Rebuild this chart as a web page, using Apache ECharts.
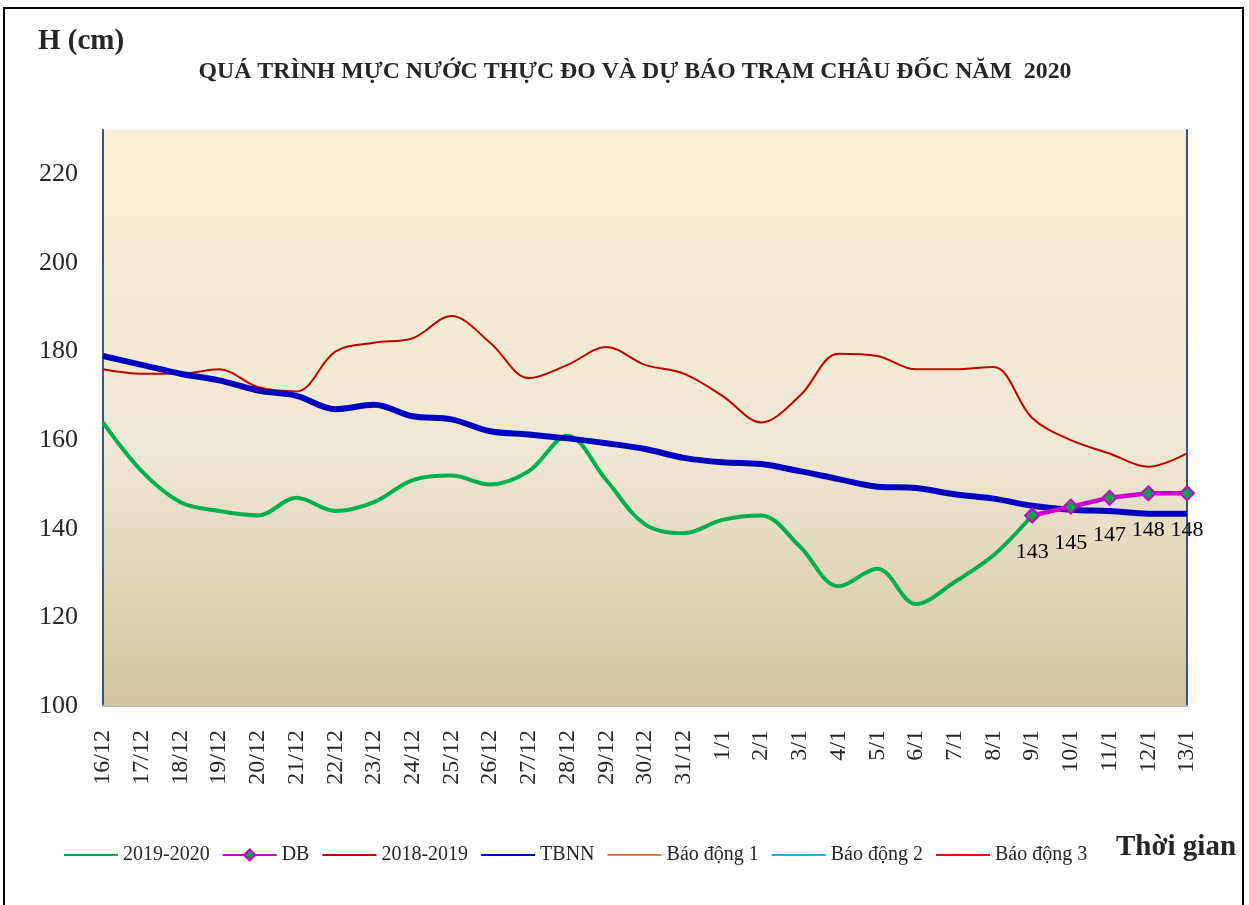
<!DOCTYPE html>
<html>
<head>
<meta charset="utf-8">
<script src="https://cdn.jsdelivr.net/npm/echarts@6/dist/echarts.min.js"></script>
<style>
  html, body { margin: 0; padding: 0; background: #fff; }
  #chart { width: 1249px; height: 905px; }
</style>
</head>
<body>
<div id="chart"></div>
<script>
// ngày (trục hoành)
var days = ["16/12", "17/12", "18/12", "19/12", "20/12", "21/12", "22/12", "23/12", "24/12", "25/12",
  "26/12", "27/12", "28/12", "29/12", "30/12", "31/12", "1/1", "2/1", "3/1", "4/1",
  "5/1", "6/1", "7/1", "8/1", "9/1", "10/1", "11/1", "12/1", "13/1"];

// mực nước thực đo 2019-2020 (cm)
var h2019_2020 = [164, 153, 146, 144, 143, 147, 144, 146, 151, 152,
  150, 153, 161, 151, 141, 139, 142, 143, 136, 127,
  131, 123, 128, 134, 143, null, null, null, null];

// dự báo
var hDB = [null, null, null, null, null, null, null, null, null, null,
  null, null, null, null, null, null, null, null, null, null,
  null, null, null, null, 143, 145, 147, 148, 148];

// cùng kỳ 2018-2019
var h2018_2019 = [176, 175, 175, 176, 172, 171, 180, 182, 183, 188,
  182, 174, 177, 181, 177, 175, 170, 164, 170, 179.5,
  179, 176, 176, 176.5, 165, 160, 157, 154, 157];

// trung bình nhiều năm
var hTBNN = [179, 177, 175, 173.5, 171.2, 170, 167, 168, 165.4, 164.7,
  162, 161.3, 160.4, 159.3, 158, 156, 155, 154.6, 153, 151.2,
  149.5, 149.2, 147.8, 146.8, 145.2, 144.3, 144, 143.4, 143.4];

// các mức báo động (nằm ngoài khung trục, chỉ có trong chú giải)
var bd1 = [];
var bd2 = [];
var bd3 = [];

var serif = "'Liberation Serif', 'Times New Roman', serif";
var hideSym = { opacity: 0 };

var myChart = echarts.init(document.getElementById("chart"));
var option = {
  backgroundColor: "#fff",
  animation: false,
  textStyle: { fontFamily: serif },
  graphic: [
    {
      type: "rect",
      shape: { x: 4, y: 8, width: 1239, height: 905 },
      style: { fill: "none", stroke: "#000", lineWidth: 2 },
      z: -1
    },
    {
      type: "text",
      left: 38, top: 27,
      style: { text: "H (cm)", font: "bold 29px " + serif, fill: "#262626" }
    },
    {
      type: "text",
      left: 1116, top: 833,
      style: { text: "Thời gian", font: "bold 29px " + serif, fill: "#262626" }
    }
  ],
  title: {
    text: "QUÁ TRÌNH MỰC NƯỚC THỰC ĐO VÀ DỰ BÁO TRẠM CHÂU ĐỐC NĂM  2020",
    left: 630,
    textAlign: "center",
    top: 55,
    textStyle: { fontFamily: serif, fontSize: 23.8, fontWeight: "bold", color: "#262626" }
  },
  legend: {
    left: 58,
    top: 840,
    itemWidth: 54,
    itemHeight: 14,
    itemGap: 12,
    textStyle: { fontFamily: serif, fontSize: 20, color: "#262626" },
    data: [
      { name: "2019-2020", itemStyle: hideSym },
      "DB",
      { name: "2018-2019", itemStyle: hideSym },
      { name: "TBNN", itemStyle: hideSym },
      { name: "Báo động 1", itemStyle: hideSym },
      { name: "Báo động 2", itemStyle: hideSym },
      { name: "Báo động 3", itemStyle: hideSym }
    ]
  },
  grid: {
    left: 103,
    right: 62,
    top: 130,
    bottom: 199,
    show: true,
    borderWidth: 0,
    backgroundColor: new echarts.graphic.LinearGradient(0, 0, 0, 1, [
      { offset: 0, color: "#FCEED2" },
      { offset: 0.55, color: "#EFE8D4" },
      { offset: 1, color: "#D3C49E" }
    ])
  },
  xAxis: {
    type: "category",
    data: days,
    boundaryGap: false,
    axisLine: { show: true, lineStyle: { color: "#BFBFBF", width: 2 } },
    axisTick: { show: false },
    axisLabel: {
      rotate: 90,
      interval: 0,
      margin: 24,
      fontFamily: serif,
      fontSize: 24,
      color: "#262626"
    },
    splitLine: { show: false }
  },
  yAxis: [
    {
      type: "value",
      min: 100,
      max: 230,
      interval: 20,
      axisLine: { show: true, lineStyle: { color: "#2F5597", width: 2 } },
      axisTick: { show: false },
      axisLabel: {
        showMaxLabel: false,
        margin: 25,
        fontFamily: serif,
        fontSize: 26,
        color: "#262626"
      },
      splitLine: { show: false }
    },
    {
      type: "value",
      min: 100,
      max: 230,
      position: "right",
      axisLine: { show: true, lineStyle: { color: "#2F5597", width: 2 } },
      axisTick: { show: false },
      axisLabel: { show: false },
      splitLine: { show: false }
    }
  ],
  series: [
    {
      name: "2019-2020",
      type: "line",
      data: h2019_2020,
      smooth: 0.35,
      symbol: "none",
      lineStyle: { color: "#00B050", width: 4 },
      itemStyle: { color: "#00B050" },
      z: 2
    },
    {
      name: "DB",
      type: "line",
      data: hDB,
      symbol: "diamond",
      symbolSize: 14,
      lineStyle: { color: "#CC00CC", width: 4.5 },
      itemStyle: { color: "#00A050", borderColor: "#CC00CC", borderWidth: 2 },
      label: {
        show: true,
        position: "bottom",
        distance: 18,
        fontFamily: serif,
        fontSize: 22,
        color: "#000"
      },
      z: 5
    },
    {
      name: "2018-2019",
      type: "line",
      data: h2018_2019,
      smooth: 0.35,
      symbol: "none",
      lineStyle: { color: "#C00000", width: 2 },
      itemStyle: { color: "#C00000" },
      z: 3
    },
    {
      name: "TBNN",
      type: "line",
      data: hTBNN,
      smooth: 0.35,
      symbol: "none",
      lineStyle: { color: "#0000BF", width: 6 },
      itemStyle: { color: "#0000BF" },
      z: 4
    },
    {
      name: "Báo động 1",
      type: "line",
      data: bd1,
      symbol: "none",
      lineStyle: { color: "#ED7D31", width: 2.5 },
      itemStyle: { color: "#ED7D31" }
    },
    {
      name: "Báo động 2",
      type: "line",
      data: bd2,
      symbol: "none",
      lineStyle: { color: "#00B0F0", width: 2.5 },
      itemStyle: { color: "#00B0F0" }
    },
    {
      name: "Báo động 3",
      type: "line",
      data: bd3,
      symbol: "none",
      lineStyle: { color: "#FF0000", width: 2.5 },
      itemStyle: { color: "#FF0000" }
    }
  ]
};
myChart.setOption(option);
</script>
</body>
</html>
